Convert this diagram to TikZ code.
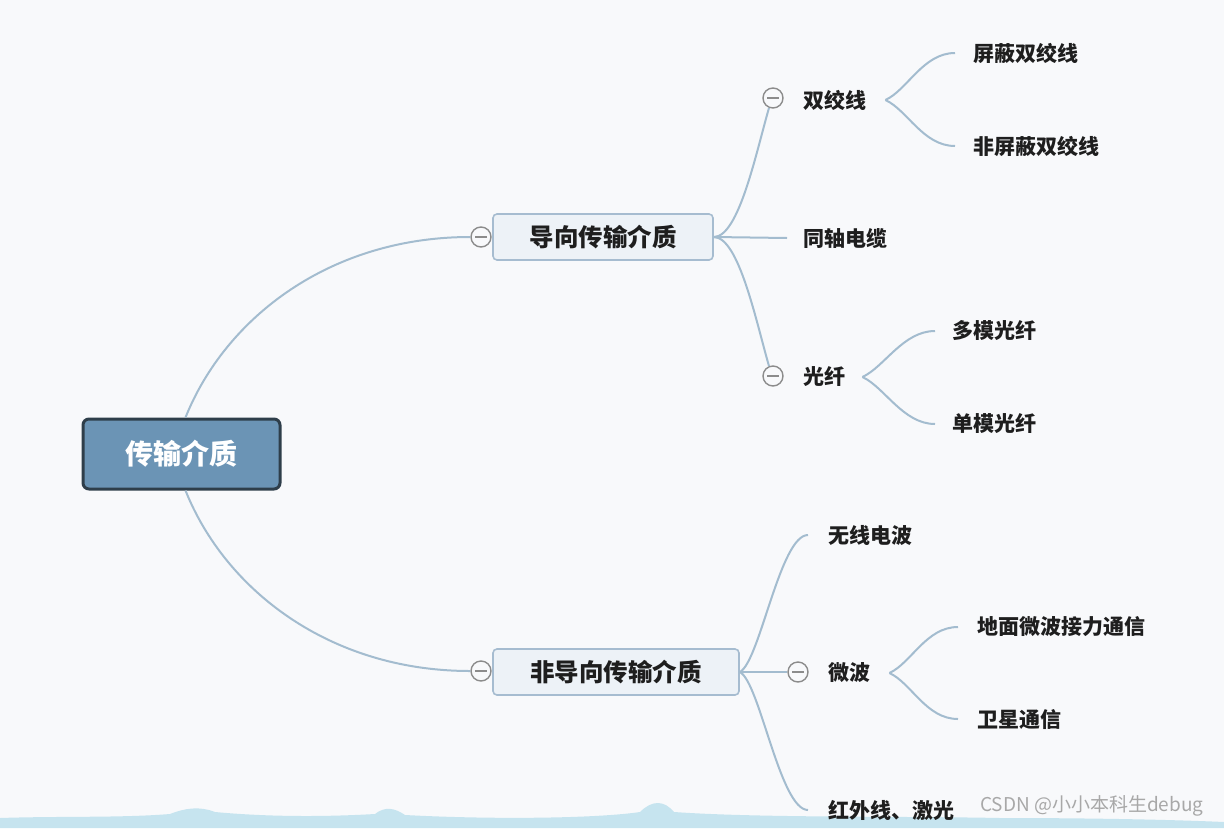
\documentclass[tikz,border=0pt]{standalone}
\usepackage{fontspec}
\setmainfont{Noto Sans CJK SC}
\usetikzlibrary{calc}
\definecolor{bg}{HTML}{F8F9FB}
\definecolor{linec}{HTML}{A3BCCF}
\definecolor{rootfill}{HTML}{6B94B5}
\definecolor{rootborder}{HTML}{2E3E4A}
\definecolor{lfill}{HTML}{EDF2F7}
\definecolor{lborder}{HTML}{A6BCD0}
\definecolor{foldc}{HTML}{8C8C8C}
\definecolor{txt}{HTML}{1E1E1E}
\definecolor{band}{HTML}{C6E4EF}
\definecolor{wm}{HTML}{A8A8A8}
\begin{document}
\begin{tikzpicture}[x=1pt,y=-1pt,
 conn/.style={draw=linec, line width=2pt},
 rootbox/.style={draw=rootborder, line width=3pt, fill=rootfill, rounded corners=6pt, text=white, font=\fontsize{28}{30}\selectfont\bfseries, minimum width=197pt, minimum height=70pt, inner sep=0pt},
 lvbox/.style={draw=lborder, line width=1.6pt, fill=lfill, rounded corners=4pt, text=txt, font=\fontsize{24.5}{26}\selectfont\bfseries, minimum height=46pt, inner sep=0pt},
 leaf/.style={anchor=west, inner sep=0pt, text=txt, font=\fontsize{21}{23}\selectfont\bfseries},
 fold/.style={circle, draw=foldc, line width=1.4pt, fill=bg, minimum size=20pt, inner sep=0pt,
   path picture={\draw[foldc, line width=1.4pt] ([xshift=-6pt]path picture bounding box.center) -- ([xshift=6pt]path picture bounding box.center);}}
]
\useasboundingbox (0,0) rectangle (1224,828);
\fill[bg] (0,0) rectangle (1224,828);
% bottom band
\fill[band] (0,828) -- (0,818) .. controls (60,816) and (120,818) .. (170,814)
  .. controls (185,808) and (200,806) .. (215,812) .. controls (280,818) and (340,816) .. (375,814)
  .. controls (385,806) and (395,808) .. (405,815) .. controls (500,820) and (600,818) .. (640,812)
  .. controls (652,800) and (664,800) .. (674,812) .. controls (760,818) and (900,816) .. (1000,818)
  .. controls (1100,818) and (1180,820) .. (1224,822) -- (1224,828) -- cycle;

% nodes
\node[rootbox] (root) at (181.5,454) {传输介质};
\node[lvbox, minimum width=220pt] (g1) at (603,237) {导向传输介质};
\node[lvbox, minimum width=246pt] (g2) at (616,672) {非导向传输介质};
\node[fold] (c1) at (481,237) {};
\node[fold] (c2) at (481,671) {};

\node[fold] (f1) at (773,98) {};
\node[leaf] (sjx) at (803,100) {双绞线};
\node[leaf] (tzdl) at (803,238) {同轴电缆};
\node[fold] (f2) at (773,376) {};
\node[leaf] (gx) at (803,377) {光纤};
\node[leaf] (pb) at (973,53) {屏蔽双绞线};
\node[leaf] (fpb) at (973,146) {非屏蔽双绞线};
\node[leaf] (dm) at (952,331) {多模光纤};
\node[leaf] (dan) at (952,424) {单模光纤};

\node[leaf] (wx) at (828,535) {无线电波};
\node[fold] (f3) at (798,672) {};
\node[leaf] (wb) at (828,673) {微波};
\node[leaf] (hw) at (828,810) {红外线、激光};
\node[leaf] (dmwb) at (977,627) {地面微波接力通信};
\node[leaf] (wx2) at (977,719) {卫星通信};

% watermark
\node[anchor=west, inner sep=0pt, text=wm, font=\fontsize{19}{21}\selectfont] (wmk) at (980,806) {CSDN @小小本科生debug};

% connectors
\draw[conn] ($(root.north)+(4,0)$) .. controls +(40,-100) and +(-140,0) .. (c1.west);
\draw[conn] ($(root.south)+(4,0)$) .. controls +(40,100) and +(-140,0) .. (c2.west);

\draw[conn] (g1.east) .. controls +(25,0) and +(-13,45) .. (f1.-112);
\draw[conn] (g1.east) -- ($(tzdl.west)+(-16,0)$);
\draw[conn] (g1.east) .. controls +(25,0) and +(-13,-45) .. (f2.112);

\coordinate (p1) at ($(sjx.east)+(19,0)$);
\draw[conn] (p1) .. controls +(22,-10) and +(-32,0) .. ($(pb.west)+(-18,0)$);
\draw[conn] (p1) .. controls +(22,10) and +(-32,0) .. ($(fpb.west)+(-18,0)$);

\coordinate (p2) at ($(gx.east)+(17,0)$);
\draw[conn] (p2) .. controls +(22,-10) and +(-32,0) .. ($(dm.west)+(-17,0)$);
\draw[conn] (p2) .. controls +(22,10) and +(-32,0) .. ($(dan.west)+(-17,0)$);

\draw[conn] (g2.east) .. controls +(20,-10) and +(-28,0) .. ($(wx.west)+(-20,0)$);
\draw[conn] (g2.east) -- (f3.west);
\draw[conn] (g2.east) .. controls +(20,10) and +(-28,0) .. ($(hw.west)+(-20,0)$);

\coordinate (p3) at ($(wb.east)+(19,0)$);
\draw[conn] (p3) .. controls +(22,-10) and +(-32,0) .. ($(dmwb.west)+(-19,0)$);
\draw[conn] (p3) .. controls +(22,10) and +(-32,0) .. ($(wx2.west)+(-19,0)$);
\end{tikzpicture}
\end{document}
